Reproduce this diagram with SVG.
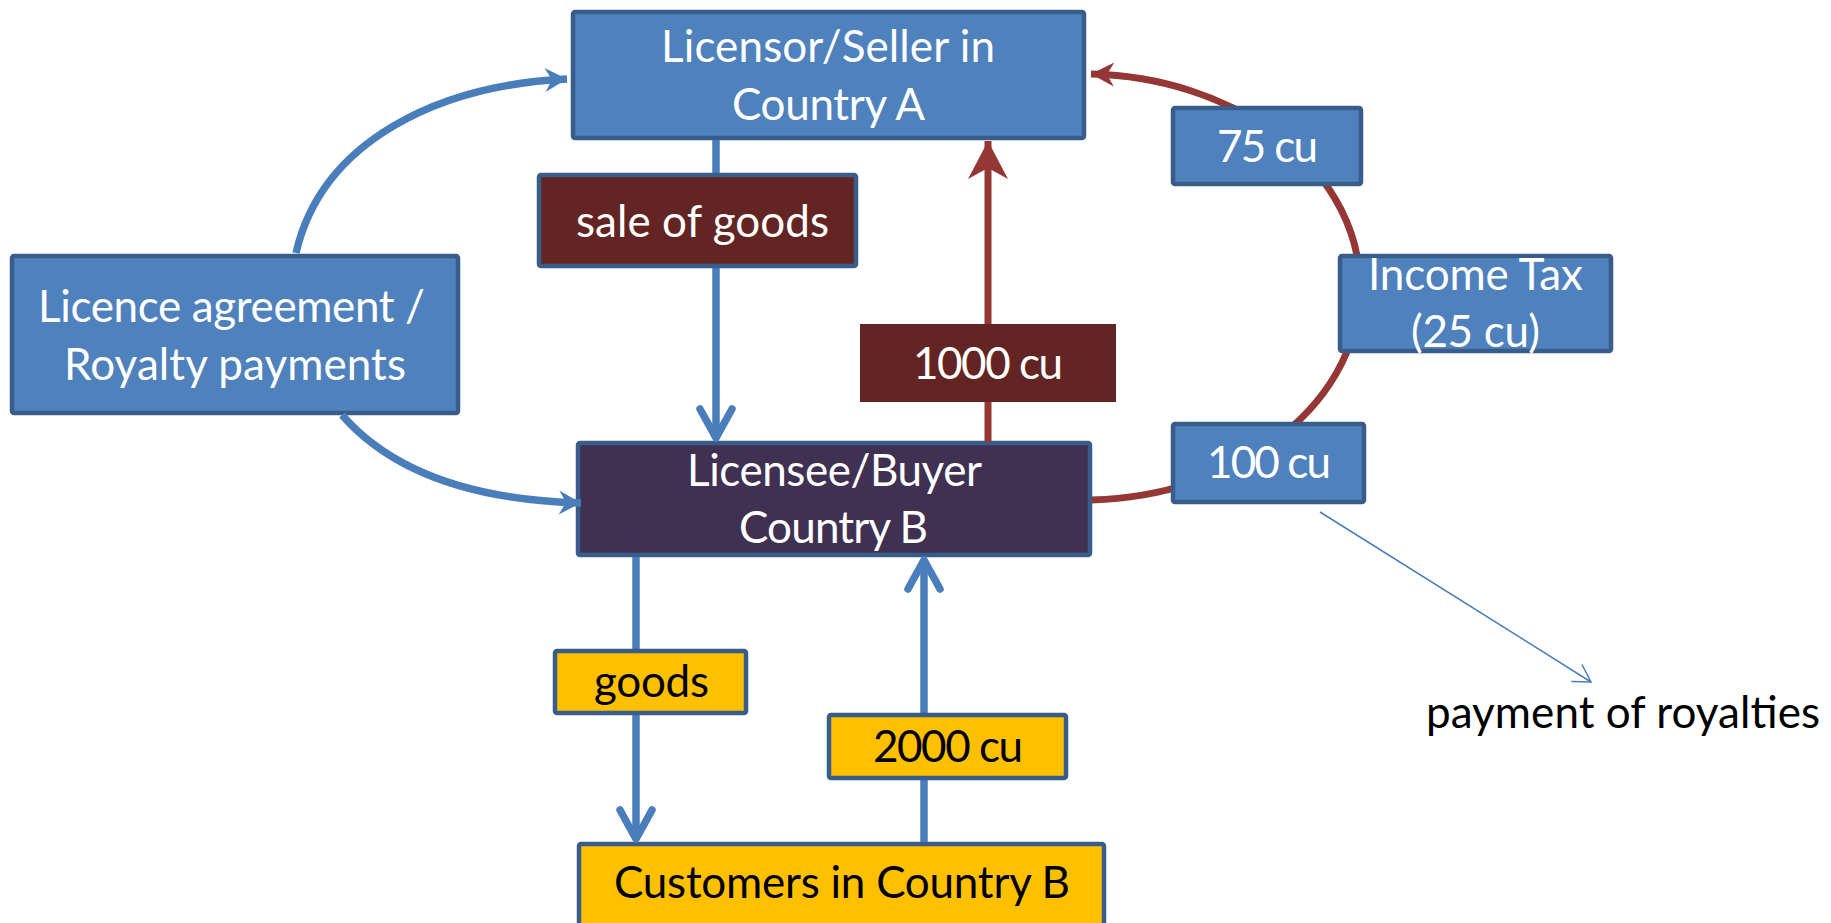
<svg xmlns="http://www.w3.org/2000/svg" width="1831" height="923" viewBox="0 0 1831 923">
<defs>
<style>
.t{font-family:Lato,"Open Sans","Liberation Sans",sans-serif;font-size:44px;}
.w{fill:#ffffff;}
.k{fill:#000000;}
.bx{stroke:#385D8A;stroke-width:4.5;}
.blue{fill:#4F81BD;}
.red{fill:#632523;}
.pur{fill:#403152;}
.yel{fill:#FFC000;}
.cb{fill:none;stroke:#4A7EBB;stroke-width:7.5;}
.cr{fill:none;stroke:#953735;stroke-width:7;}
</style>
<marker id="chev" markerUnits="userSpaceOnUse" orient="auto" refX="0" refY="0" markerWidth="60" markerHeight="60" overflow="visible">
<path d="M -29 -16 L 0 0 L -29 16" fill="none" stroke="#4A7EBB" stroke-width="7.5" stroke-linecap="round" stroke-linejoin="round"/>
</marker>
<marker id="stealthBlue" markerUnits="userSpaceOnUse" orient="auto" refX="0" refY="0" markerWidth="60" markerHeight="60" overflow="visible">
<path d="M 0 0 L -22 -12 L -15 0 L -22 12 Z" fill="#4A7EBB"/>
</marker>
<marker id="stealthRedS" markerUnits="userSpaceOnUse" orient="auto" refX="0" refY="0" markerWidth="60" markerHeight="60" overflow="visible">
<path d="M 0 0 L -23 -12 L -16 0 L -23 12 Z" fill="#953735"/>
</marker>
<marker id="stealthRedL" markerUnits="userSpaceOnUse" orient="auto" refX="0" refY="0" markerWidth="80" markerHeight="80" overflow="visible">
<path d="M 0 0 L -38 -20 L -27 0 L -38 20 Z" fill="#953735"/>
</marker>
<marker id="openThin" markerUnits="userSpaceOnUse" orient="auto" refX="0" refY="0" markerWidth="40" markerHeight="40" overflow="visible">
<path d="M -17 -10 L 0 0 L -17 10" fill="none" stroke="#4A7EBB" stroke-width="1.5"/>
</marker>
</defs>
<rect width="1831" height="923" fill="#ffffff"/>

<g id="licensor">
<rect class="bx blue" x="573" y="12" width="511" height="126" rx="2"/>
<text class="t w" x="661" y="62" textLength="334">Licensor/Seller in</text>
<text class="t w" x="732" y="120" textLength="193">Country A</text>
</g>
<g id="licence">
<rect class="bx blue" x="12" y="256" width="446" height="157" rx="2"/>
<text class="t w" x="38" y="322" textLength="387">Licence agreement /</text>
<text class="t w" x="64" y="380" textLength="342">Royalty payments</text>
</g>
<g id="licensee">
<rect class="bx pur" x="578" y="443" width="512" height="112" rx="2"/>
<text class="t w" x="687" y="486" textLength="295">Licensee/Buyer</text>
<text class="t w" x="739" y="543" textLength="189">Country B</text>
</g>
<g id="customers">
<rect class="bx yel" x="579" y="844" width="525" height="100" rx="2"/>
<text class="t k" x="614" y="898" textLength="456">Customers in Country B</text>
</g>

<g id="connectors">
<line class="cb" x1="716" y1="140" x2="716" y2="438" marker-end="url(#chev)"/>
<line class="cb" x1="636" y1="557" x2="636" y2="839" marker-end="url(#chev)"/>
<line class="cb" x1="924" y1="842" x2="924" y2="560" marker-end="url(#chev)"/>
<line class="cr" x1="988" y1="442" x2="988" y2="141" marker-end="url(#stealthRedL)"/>
<path class="cr" d="M 1092 499.9 A 277 213 0 0 0 1091 74.1" marker-end="url(#stealthRedS)"/>
<path class="cb" d="M 296 253 C 322 140 440 85 567 79" marker-end="url(#stealthBlue)"/>
<path class="cb" d="M 342 415 C 390 470 470 500 581 503" marker-end="url(#stealthBlue)"/>
<line x1="1320" y1="512" x2="1591" y2="682" stroke="#4A7EBB" stroke-width="1.5" marker-end="url(#openThin)"/>
</g>

<g id="sale-of-goods">
<rect class="bx red" x="539" y="175" width="317" height="91" rx="2"/>
<text class="t w" x="576" y="237" textLength="253">sale of goods</text>
</g>
<g id="cu1000">
<rect class="red" x="860" y="324" width="256" height="78"/>
<text class="t w" x="913" y="379" textLength="150">1000 cu</text>
</g>
<g id="goods">
<rect class="bx yel" x="555" y="651" width="191" height="62" rx="2"/>
<text class="t k" x="594" y="697" textLength="115">goods</text>
</g>
<g id="cu2000">
<rect class="bx yel" x="829" y="715" width="237" height="63" rx="2"/>
<text class="t k" x="873" y="762" textLength="150">2000 cu</text>
</g>
<g id="cu75">
<rect class="bx blue" x="1173" y="108" width="188" height="76" rx="2"/>
<text class="t w" x="1217" y="162" textLength="101">75 cu</text>
</g>
<g id="income-tax">
<rect class="bx blue" x="1340" y="256" width="271" height="95" rx="2"/>
<text class="t w" x="1368" y="290" textLength="215">Income Tax</text>
<text class="t w" x="1411" y="347" textLength="129">(25 cu)</text>
</g>
<g id="cu100">
<rect class="bx blue" x="1173" y="424" width="191" height="78" rx="2"/>
<text class="t w" x="1207" y="478" textLength="124">100 cu</text>
</g>
<g id="royalties-label">
<text class="t k" x="1426" y="728" textLength="394">payment of royalties</text>
</g>
</svg>
